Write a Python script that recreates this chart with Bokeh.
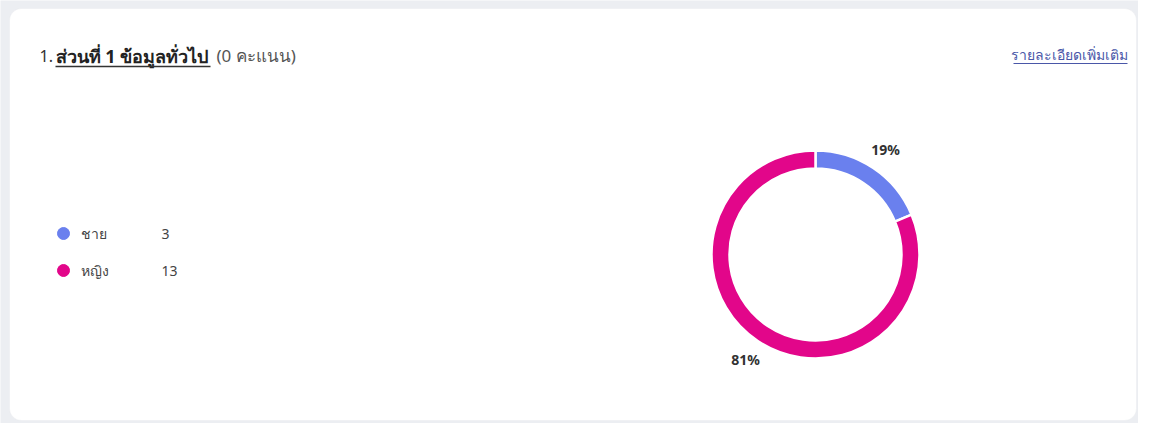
import math
from bokeh.plotting import figure
from bokeh.models import Range1d, BoxAnnotation, ColumnDataSource
from bokeh.core.properties import value
from bokeh.embed import file_html
from bokeh.resources import INLINE

# ---- data ----
categories = ["ชาย", "หญิง"]
counts = [3, 13]
colors = ["#6a80ee", "#e2068a"]
title_num = "1."
title_main = "ส่วนที่ 1 ข้อมูลทั่วไป"
title_tail = "(0 คะแนน)"
link_text = "รายละเอียดเพิ่มเติม"

W, H = 1138, 423
FONT = value("Noto Sans")

p = figure(width=W, height=H, output_backend="svg", toolbar_location=None,
           x_range=Range1d(0, W), y_range=Range1d(0, H), min_border=0,
           background_fill_color="#eceef2", border_fill_color="#eceef2")
p.axis.visible = False
p.grid.visible = False
p.outline_line_color = None

# card
card = BoxAnnotation(left=9, right=W - 2, bottom=3, top=H - 8, fill_color="white", fill_alpha=1,
                     line_color="#e2e4e9", line_width=1, border_radius=12, level="underlay")
p.add_layout(card)

# donut
total = sum(counts)
cx, cy = 815, 169
r_out, r_in = 104, 86
starts, ends, mids, pcts = [], [], [], []
a = math.pi / 2
for c in counts:
    span = 2 * math.pi * c / total
    starts.append(a)
    ends.append(a - span)
    mids.append(a - span / 2)
    pcts.append(f"{round(100 * c / total)}%")
    a -= span
src = ColumnDataSource(dict(x=[cx] * len(counts), y=[cy] * len(counts), s=starts, e=ends, color=colors))
p.annular_wedge(x="x", y="y", inner_radius=r_in, outer_radius=r_out, start_angle="s", end_angle="e",
                direction="clock", fill_color="color", line_color="white", line_width=2.5, source=src)

r_lab = 126
lab = ColumnDataSource(dict(x=[cx + r_lab * math.cos(m) for m in mids],
                            y=[cy + r_lab * math.sin(m) for m in mids], t=pcts))
p.text(x="x", y="y", text="t", source=lab, text_font=FONT, text_font_size="14px",
       text_font_style="bold", text_color="#323232", text_align="center", text_baseline="middle")

# legend
leg_y = [190 - 37 * i for i in range(len(categories))]
leg = ColumnDataSource(dict(y=leg_y, cat=categories, n=[str(c) for c in counts], color=colors))
p.scatter(x=63, y="y", size=12, color="color", source=leg)
p.text(x=80, y="y", text="cat", source=leg, text_font=FONT, text_font_size="14px",
       text_color="#444444", text_baseline="middle")
p.text(x=161, y="y", text="n", source=leg, text_font=FONT, text_font_size="14px",
       text_color="#444444", text_baseline="middle")

# title
ty = 368
p.text(x=[39], y=[ty], text=[title_num], text_font=FONT, text_font_size="16px",
       text_color="#333333", text_baseline="middle")
p.text(x=[55], y=[ty], text=[title_main], text_font=FONT, text_font_size="18px",
       text_font_style="bold", text_color="#222222", text_baseline="middle")
p.segment(x0=[55], y0=[357], x1=[210], y1=[357], line_color="#333333", line_width=1.5)
p.text(x=[216], y=[ty], text=[title_tail], text_font=FONT, text_font_size="17px",
       text_color="#555555", text_baseline="middle")

# link
p.text(x=[1127], y=[369], text=[link_text], text_font=FONT, text_font_size="14px",
       text_color="#4a57a8", text_align="right", text_baseline="middle")
p.segment(x0=[1013], y0=[360], x1=[1127], y1=[360], line_color="#4a57a8", line_width=1.2)

open("out.html", "w").write(file_html(p, INLINE))
